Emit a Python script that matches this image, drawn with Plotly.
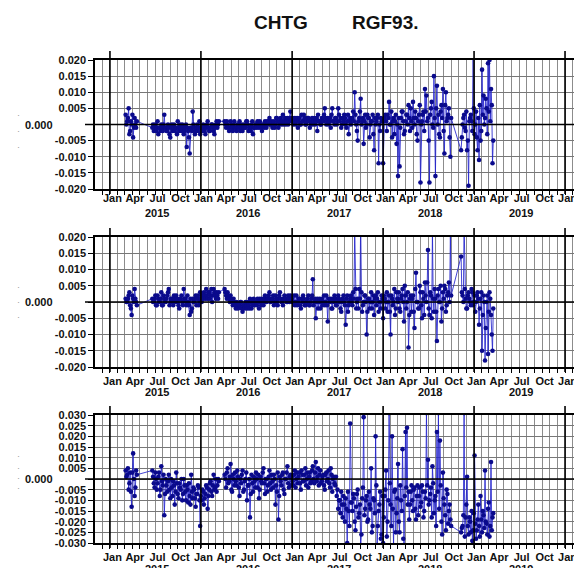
import pandas as pd
import plotly.graph_objects as go

# ---------------- data (values in millimetres) ----------------
# Two interleaved readings of every series: one every 6 days from SEG_STARTS,
# and the in-between ones (suffix 2) every 6 days from SEG_STARTS_2.
STEP = "6D"
SEG_STARTS = ["2015-03-05", "2015-06-20", "2016-04-05", "2018-11-10"]
SEG_STARTS_2 = ["2015-03-08", "2015-06-23", "2016-04-08", "2018-11-13"]

# Panel 1
P1_A = [3, 1, 5, -2, 0, -4, 2, -1]
P1_B = [-1, -2, 0, -1, -3, -1, 0, -2, 3, -1, -2, -1, -4, 0, -1, -2, -1, 1, -2, -1,
        0, -3, -1, -7, -2, -9, -1, 4, -1, -2, 0, -1, -3, -1, 0, -2, -1, 1, -2, -1,
        0, -2, -1, 1, 0]
P1_C16 = [1, -1, 0, -2, 1, -1, 0, -1, -2, 0, 1, -1, -2, 0, -1, 1, -2, -1, 0, -3,
          -1, 0, 1, -1, 0, -2, 0, 1, -1, 0, 2, 0, -1, 1, 0, 2, -1, 1, 0, 3,
          1, 0, 2, 1, 4]
P1_C17 = [1, 0, 2, 1, -1, 2, 0, 1, 3, 0, 1, 2, -1, 1, 0, 2, 1, -2, 1, 0,
          2, 1, 5, 0, 2, 1, -1, 5, 1, 2, 0, 5, 1, -1, 2, 3, 0, 1, -3, 2,
          1, 4, 10, 0, -5, 2, 8, 1, -6, 3, 0, 2, -4, 1, 3, -8, 0, 2, -12, -2, 1]
P1_C18 = [-12, 2, 1, 3, 7, 0, -4, 2, 1, -6, -16, -13, 2, 4, -3, 1, 3, 6, -2, 1,
          7, 0, 2, -5, 3, -18, 1, 4, 11, 9, 2, -18, 5, 0, 15, -16, 12, 3, -4, 6,
          11, -9, 10, 2, 5, -10]
P1_D = [-8, 0, 3, -2, -8, -19, 2, 1, 22, -3, 4, -8, -11, -5, 17, 9, 2, 5, 19, 20, 11, -12]

P1_A2 = [0, 2, -3, 1, 3, -1, 0, 1]
P1_B2 = [0, -1, -2, 1, -1, -2, -1, 0, -1, -2, 0, -3, -1, -2, 0, -1, -3, -1, 0, -2,
         -1, -2, 0, -1, -4, -1, -2, 0, -3, -1, -2, 1, -1, -2, -1, -3, 0, -1, -2, 0,
         -1, -3, 0, -1, 1]
P1_C16_2 = [0, 1, -1, -1, 0, -2, 1, -1, 0, -1, -2, 0, -1, -1, 1, 0, -1, -2, 1, -1,
            0, -1, 0, 1, -1, 0, -1, 0, 1, 1, 0, 1, 0, -1, 2, 1, 0, 2, 1, 0,
            2, 1, 0, 2, 1]
P1_C17_2 = [2, 1, 0, 2, 1, 0, 3, 1, 2, 0, 2, 1, 0, 2, 1, 0, 2, 3, 1, 0,
            1, 3, 2, 1, 0, 2, 3, 1, 0, 2, 1, 3, 2, 0, 1, 2, -1, 3, 1, 0,
            2, 1, 3, -2, 1, 4, 0, 2, 1, -1, 3, 2, 0, 1, -3, 2, 1, 3, 0, 2, 1]
P1_C18_2 = [1, 3, -2, 2, 0, 4, 1, -3, 3, 0, 2, -1, 4, 1, -2, 3, 0, 2, 5, -1,
            2, 4, -3, 1, 6, 0, 3, -2, 4, 1, -5, 3, 7, -1, 2, 5, 0, -3, 4, 2,
            -2, 6, 1, 3, -4, 2]
P1_D2 = [-4, 2, -1, 4, -5, 1, 3, -2, 5, 0, -4, 2, 6, -2, 3, 0, 8, -3, 4, 1, 6, -5]

# Panel 2
P2_A = [1, 0, 2, -1, -4, 1, 4, 0]
P2_B = [1, 0, 2, -1, 1, 0, 3, -1, 1, 0, 2, 4, 0, 1, -1, 1, 2, 0, -2, 1,
        0, 4, 1, -1, 0, -4, -3, 1, 0, 2, 1, -1, 3, 0, 1, 2, 4, 1, 3, 2,
        0, 4, 2, 3, 1]
P2_C16 = [4, 2, 3, 1, 2, 0, 1, -1, 0, -2, -1, 0, -3, -1, 0, -2, -1, 1, -2, 0,
          -1, 0, 1, -2, 0, 1, -1, 2, 0, 1, 3, 0, 1, -1, 2, 0, 1, 3, 0, -1,
          2, 1, 0, 1, 2]
P2_C17 = [1, 0, -1, 2, 0, 1, -2, 0, 1, -1, 0, 2, -1, 1, 7, 0, -5, 1, 0, -2,
          1, 0, -1, 2, -6, 0, 1, -2, 0, 1, -1, 2, 0, -3, 1, 0, -7, 2, -1, 1,
          0, 3, 22, -2, 1, 4, 25, -3, 0, 2, -10, 1, -2, 3, 0, -4, 2, 1, -3, 0, 2]
P2_C18 = [-5, 1, 0, -3, 2, -10, 1, 0, -4, 3, 0, -2, 1, 4, -6, 2, 0, -14, 1, -3,
          2, -8, 9, 0, -2, 3, -5, 1, 6, 0, 16, -4, 2, 22, -3, 1, -12, 4, 0, -6,
          3, 5, -3, 2, 6, 21]
P2_D = [14, 2, 24, 1, -2, 3, 0, 4, -1, 2, 0, 3, -7, 1, -15, 2, -18, 0, -16, 3, -4, -15]

P2_A2 = [0, 1, 3, -2, 2, 0, 1, -1]
P2_B2 = [0, 1, -1, 2, 0, 1, -1, 2, 0, 1, 3, -1, 1, 0, 2, 0, 1, -1, 1, 2,
         -1, 1, 0, 2, -1, 1, -2, 0, 1, -1, 2, 0, 1, 2, 3, 1, 2, 3, 1, 4,
         2, 3, 1, 2, 3]
P2_C16_2 = [3, 1, 2, 0, 1, -1, 0, -2, -1, -1, 0, -2, -1, -2, -1, 0, -2, 0, -1, 1,
            0, -1, 0, 1, -1, 0, 1, 0, 1, 2, 0, 1, 2, 0, 1, -1, 2, 1, 0, 1,
            1, 0, 2, 0, 1]
P2_C17_2 = [0, 2, 0, -1, 1, -1, 1, 2, -1, 0, 1, -1, 0, 2, -1, 1, 0, -2, 1, 0,
            -1, 2, 0, -1, 1, 0, -2, 1, 2, -1, 0, 1, -2, 0, 2, -1, 1, -3, 0, 2,
            -1, 1, 4, 0, -2, 1, 3, -1, 2, 0, -3, 1, 0, -2, 2, 1, -1, 3, 0, -2, 1]
P2_C18_2 = [2, -2, 3, 0, -3, 2, -1, 4, -2, 1, 3, -3, 2, 0, 5, -2, 3, -4, 2, 1,
            -3, 4, 0, -2, 5, -1, 3, -4, 2, 6, -2, 3, -5, 1, 4, -3, 2, 0, 5, -2,
            1, 4, -1, 3, 0, 2]
P2_D2 = [3, 0, 4, -2, 2, 1, -1, 3, 0, -3, 2, 1, -2, 3, -4, 0, -8, 2, -3, 1, -10, -2]

# Panel 3
P3_A = [4, 2, -5, 3, -13, 12, -8, 4]
P3_B = [4, -2, 3, -5, 1, -8, 6, -3, -17, 0, -6, 2, -9, -4, -1, -12, 3, -7, -2, -5,
        -10, 0, -6, -3, -11, -8, 2, -9, -5, -13, -7, -4, -22, -10, -6, -9, -3, -14, -5, -1,
        -8, 2, -4, -6, 0]
P3_C16 = [2, -4, 5, -1, 7, -6, 0, 3, -3, 1, -8, -2, 4, -5, 0, -10, -3, -18, 2, -6,
          -1, 3, -4, -9, 1, -2, 5, -7, 0, -3, 4, -5, -1, 2, -12, -6, -19, 1, -3, 3,
          -7, 0, 6, -4, 2]
P3_C17 = [1, -3, 4, 0, -2, 3, -5, 2, -1, 5, 0, -4, 3, -1, 6, -2, 8, 1, -3, 4,
          -1, 2, -5, 3, 0, -2, 5, -6, 1, -3, -8, -14, -10, -6, -18, -12, -9, -30, -15, 26,
          -11, -7, -20, -13, -5, -16, -31, -9, 29, -14, -8, -19, -12, 5, -22, -10, 20, -31, -15, -6, -26]
P3_C18 = [-30, -8, 4, -20, 31, -12, 20, -31, -5, -16, 7, -25, -10, 14, -31, 22, 24, -6, -12, -3,
          -15, -4, -19, -3, -8, -13, -3, -18, -6, 31, 9, -10, -4, 6, -16, -8, 22, 31, 18, -20,
          3, -12, -24, -7, -15, -19]
P3_D = [-25, -22, 31, -18, 1, -26, -20, -15, -24, 11, -28, -19, -22, -8, -25, -17, 4, -21, -14, -27, 8, -18]

P3_A2 = [1, 5, -2, -6, 3, 0, -4, 2]
P3_B2 = [1, -4, 0, -2, 3, -5, -1, 2, -7, -3, -1, -5, 0, -8, -3, -6, -2, -9, -4, 0,
         -7, -3, -10, -5, -2, -12, -6, -4, -9, -7, -3, -10, -8, -5, -12, -7, -4, -8, -2, -6,
         -3, -5, 0, -3, -1]
P3_C16_2 = [0, 3, -2, 1, -5, 2, -3, -1, 4, -4, 0, 2, -6, -1, 3, -3, 0, -7, -2, 1,
            -4, 0, 2, -5, -1, 3, -2, 0, -6, 1, -2, 2, -4, 0, -3, 3, -8, -1, 2, -5,
            0, 3, -2, 1, -3]
P3_C17_2 = [-1, 2, -4, 3, 1, -2, 4, -1, 2, -3, 3, 1, -2, 4, 0, 3, -1, 5, 2, -2,
            1, -3, 2, -1, 4, -4, 2, 0, -2, 1, -5, -10, -16, -12, -8, -20, -14, -6, -22, -11,
            -15, -9, -24, -7, -18, -12, -26, -4, -17, -10, -20, -6, -14, -25, -9, -16, -3, -22, -12, -28, -8]
P3_C18_2 = [-18, -5, -27, -10, -2, -22, -14, -6, -25, -9, -20, -3, -15, -28, -8, -4, -12, -19, -6, -10,
            -5, -14, -8, -17, -4, -11, -6, -15, -9, -3, -12, -7, -18, -2, -10, -22, -6, -14, -3, -26,
            -9, -17, -5, -21, -12, -22]
P3_D2 = [-23, -17, -27, -12, -22, -18, -25, -29, -16, -21, -24, -12, -27, -19, -15, -23, -20, -26, -11, -22, -24, -16]

PANELS = [
    ([P1_A, P1_B, P1_C16 + P1_C17 + P1_C18, P1_D],
     [P1_A2, P1_B2, P1_C16_2 + P1_C17_2 + P1_C18_2, P1_D2]),
    ([P2_A, P2_B, P2_C16 + P2_C17 + P2_C18, P2_D],
     [P2_A2, P2_B2, P2_C16_2 + P2_C17_2 + P2_C18_2, P2_D2]),
    ([P3_A, P3_B, P3_C16 + P3_C17 + P3_C18, P3_D],
     [P3_A2, P3_B2, P3_C16_2 + P3_C17_2 + P3_C18_2, P3_D2]),
]
Y_LIMITS = [0.020, 0.020, 0.030]

MONTHS = ["Jan", "Apr", "Jul", "Oct"]
YEARS = [2015, 2016, 2017, 2018, 2019]
TITLE_LEFT = "CHTG"
TITLE_RIGHT = "RGF93."

# ---------------- layout constants ----------------
W, H = 574, 568
ML, MR, MT, MB = 95, 0, 60, 25
PW, PH = W - ML - MR, H - MT - MB
X_RANGE = ["2014-11-02", "2020-02-06"]
PANEL_PX = [(60, 189), (237, 367), (415, 543)]        # top, bottom pixel rows of each panel
MONTH_STANDOFF = [-2, 3, 3]
YEAR_ROW_PX = [213, 392, 569]

FONT = "Liberation Sans, Arial, sans-serif"
GRID = "#8c8c8c"
MARK = "#0a0a8c"
LINE = "rgba(35,35,205,0.85)"


def py(p):
    return (H - MB - p) / PH


def px(p):
    return (p - ML) / PW


fig = go.Figure()

quarter_ticks = []
quarter_text = []
for y in YEARS + [2020]:
    for i, m in enumerate(MONTHS):
        if y == 2020 and i > 0:
            break
        quarter_ticks.append(pd.Timestamp(f"{y}-{1 + 3 * i:02d}-01") + pd.Timedelta(days=10))
        quarter_text.append(m)

shapes = []
annotations = []

for k, ((segs, segs2), lim) in enumerate(zip(PANELS, Y_LIMITS)):
    parts = []
    for starts, group in ((SEG_STARTS, segs), (SEG_STARTS_2, segs2)):
        for start, vals in zip(starts, group):
            d = pd.date_range(start, periods=len(vals), freq=STEP)
            parts.append(pd.DataFrame({"t": d, "v": [v / 1000.0 for v in vals]}))
    df = pd.concat(parts).sort_values("t")
    sfx = "" if k == 0 else str(k + 1)
    fig.add_trace(go.Scatter(
        x=df["t"], y=df["v"], mode="lines+markers", xaxis="x" + sfx, yaxis="y" + sfx,
        line=dict(color=LINE, width=1),
        marker=dict(color=MARK, size=4.6),
        showlegend=False, hoverinfo="skip"))

    top, bot = PANEL_PX[k]
    n = int(round(lim / 0.005))
    tv = [j * 0.005 for j in range(-n, n + 1)]
    tt = ["" if j == 0 else f"{j * 0.005:.3f}" for j in range(-n, n + 1)]

    fig.update_layout(**{
        "xaxis" + sfx: dict(
            domain=[0, 1], anchor="y" + sfx, type="date", range=X_RANGE,
            tickmode="array", tickvals=quarter_ticks, ticktext=quarter_text,
            ticks="", showgrid=False, zeroline=False, ticklabeloverflow="allow",
            minor=dict(tickmode="linear", tick0="2014-11-01", dtick="M1",
                       showgrid=True, gridcolor=GRID, gridwidth=1,
                       ticks="outside", ticklen=4, tickcolor="#000"),
            showline=True, linecolor="#000", linewidth=1.5, mirror=True,
            tickfont=dict(family=FONT, size=11, color="#111", weight="bold"),
            ticklabelstandoff=MONTH_STANDOFF[k]),
        "yaxis" + sfx: dict(
            domain=[py(bot), py(top)], anchor="x" + sfx, range=[-lim, lim],
            tickmode="array", tickvals=tv, ticktext=tt,
            ticks="outside", ticklen=5, tickcolor="#000",
            showgrid=True, gridcolor="#777", gridwidth=1, zeroline=False,
            showline=True, linecolor="#000", linewidth=1.5, mirror=False,
            tickfont=dict(family=FONT, size=11, color="#111", weight="bold")),
    })

    # thick January lines extending slightly beyond the frame
    for y in YEARS + [2020]:
        shapes.append(dict(type="line", xref="x" + sfx, yref="paper",
                           x0=f"{y}-01-01", x1=f"{y}-01-01",
                           y0=py(bot + 5), y1=py(top - 9),
                           line=dict(color="#000", width=1.6), layer="above"))
    # zero line, extending left of the frame
    shapes.append(dict(type="line", xref="paper", yref="y" + sfx,
                       x0=px(85), x1=1, y0=0, y1=0,
                       line=dict(color="#000", width=1.6), layer="above"))

    # zero label
    annotations.append(dict(text="0.000", xref="paper", yref="y" + sfx, x=px(39), y=0,
                            showarrow=False, xanchor="center", yanchor="middle",
                            font=dict(family=FONT, size=11, color="#111", weight="bold")))
    # year labels
    for y in YEARS:
        annotations.append(dict(text=str(y), xref="x" + sfx, yref="paper",
                                x=f"{y}-07-08", y=py(YEAR_ROW_PX[k]),
                                showarrow=False, xanchor="center", yanchor="middle",
                                font=dict(family=FONT, size=11, color="#111", weight="bold")))

# small grey specks left of the zero labels
for p in [108, 124, 140, 287, 302, 317, 463, 475, 485, 495]:
    annotations.append(dict(text="·", xref="paper", yref="paper", x=px(15), y=py(p),
                            showarrow=False, font=dict(family=FONT, size=9, color="#9a9a9a")))

# title
annotations.append(dict(text=TITLE_LEFT, xref="paper", yref="paper", x=px(281), y=py(22),
                        showarrow=False, xanchor="center", yanchor="middle",
                        font=dict(family=FONT, size=19, color="#111", weight="bold")))
annotations.append(dict(text=TITLE_RIGHT, xref="paper", yref="paper", x=px(385), y=py(22),
                        showarrow=False, xanchor="center", yanchor="middle",
                        font=dict(family=FONT, size=19, color="#111", weight="bold")))

fig.update_layout(
    width=W, height=H, margin=dict(l=ML, r=MR, t=MT, b=MB, autoexpand=False),
    paper_bgcolor="#fff", plot_bgcolor="#fff",
    shapes=shapes, annotations=annotations,
)

fig.write_html("out.html")
